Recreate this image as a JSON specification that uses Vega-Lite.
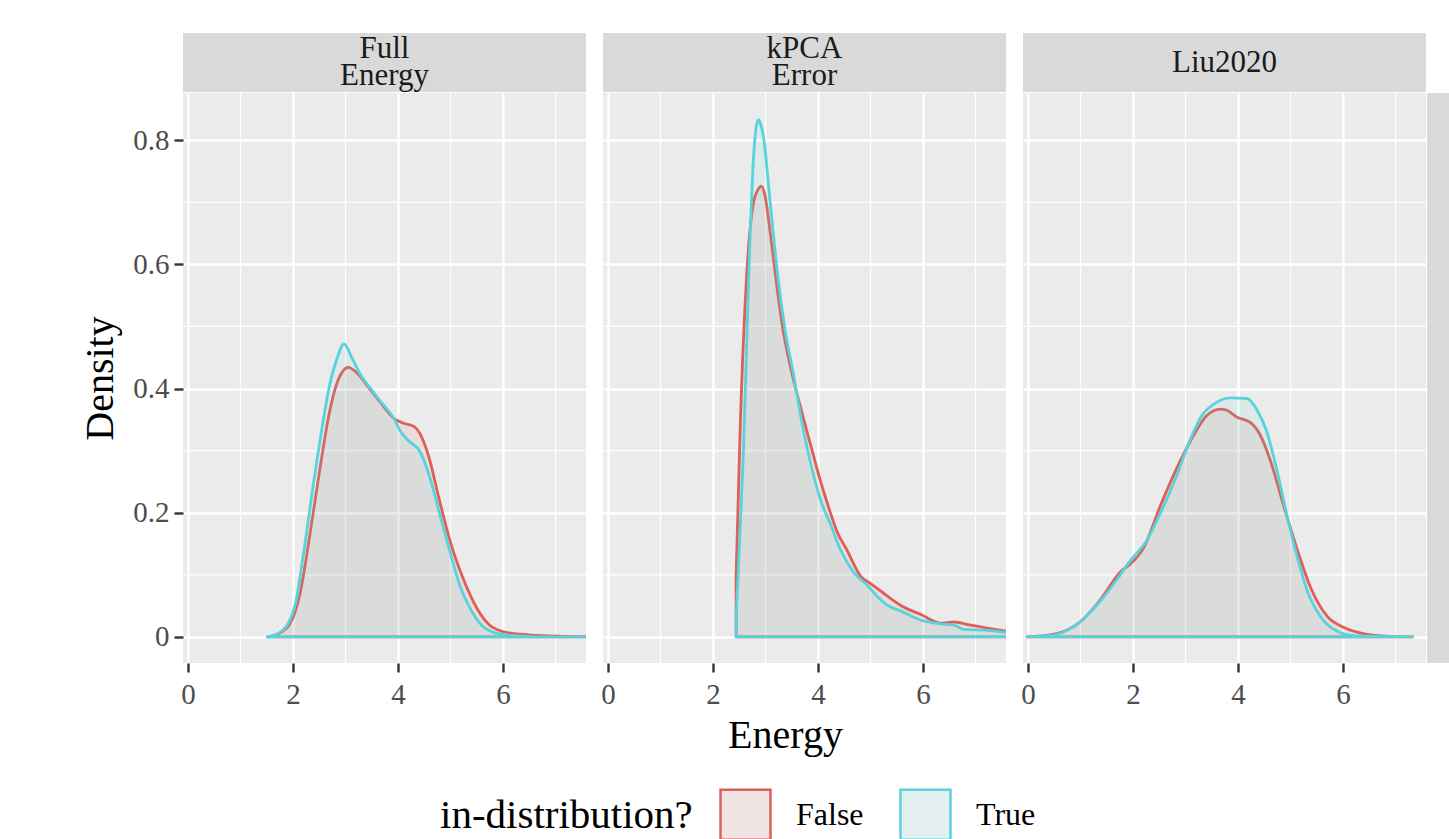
{
  "$schema": "https://vega.github.io/schema/vega-lite/v6.json",
  "background": "white",
  "padding": {"left": 80, "top": 33, "right": 0, "bottom": 0},
  "spacing": 13,
  "config": {
    "font": "Liberation Serif",
    "view": {"fill": "#ebebeb", "stroke": null},
    "axis": {"grid": true, "gridColor": "white", "gridWidth": 2.4, "domain": false, "tickColor": "#333333", "tickSize": 9, "tickWidth": 2.4, "labelFont": "Liberation Serif", "labelFontSize": 29, "labelColor": "#4d4d4d", "titleFont": "Liberation Serif", "titleFontSize": 40, "titleFontWeight": "normal", "titleColor": "black"},
    "axisX": {"labelPadding": 8, "titlePadding": 6},
    "axisY": {"labelPadding": 5, "titlePadding": 12},
    "legend": {"titleLimit": 500},
    "concat": {"spacing": 13}
  },
  "datasets": {
    "dens": [
      {"p": "Full", "g": "False", "x": 1.51, "y": 0.0},
      {"p": "Full", "g": "False", "x": 1.70, "y": 0.004},
      {"p": "Full", "g": "False", "x": 1.94, "y": 0.021},
      {"p": "Full", "g": "False", "x": 2.13, "y": 0.068},
      {"p": "Full", "g": "False", "x": 2.32, "y": 0.164},
      {"p": "Full", "g": "False", "x": 2.52, "y": 0.275},
      {"p": "Full", "g": "False", "x": 2.70, "y": 0.364},
      {"p": "Full", "g": "False", "x": 2.83, "y": 0.407},
      {"p": "Full", "g": "False", "x": 2.95, "y": 0.428},
      {"p": "Full", "g": "False", "x": 3.05, "y": 0.434},
      {"p": "Full", "g": "False", "x": 3.22, "y": 0.425},
      {"p": "Full", "g": "False", "x": 3.41, "y": 0.405},
      {"p": "Full", "g": "False", "x": 3.66, "y": 0.378},
      {"p": "Full", "g": "False", "x": 3.92, "y": 0.352},
      {"p": "Full", "g": "False", "x": 4.11, "y": 0.344},
      {"p": "Full", "g": "False", "x": 4.30, "y": 0.339},
      {"p": "Full", "g": "False", "x": 4.45, "y": 0.322},
      {"p": "Full", "g": "False", "x": 4.59, "y": 0.289},
      {"p": "Full", "g": "False", "x": 4.78, "y": 0.223},
      {"p": "Full", "g": "False", "x": 5.0, "y": 0.152},
      {"p": "Full", "g": "False", "x": 5.25, "y": 0.092},
      {"p": "Full", "g": "False", "x": 5.51, "y": 0.045},
      {"p": "Full", "g": "False", "x": 5.76, "y": 0.018},
      {"p": "Full", "g": "False", "x": 6.08, "y": 0.007},
      {"p": "Full", "g": "False", "x": 6.53, "y": 0.003},
      {"p": "Full", "g": "False", "x": 7.17, "y": 0.001},
      {"p": "Full", "g": "False", "x": 8.0, "y": 0.0},
      {"p": "Full", "g": "True", "x": 1.51, "y": 0.0},
      {"p": "Full", "g": "True", "x": 1.70, "y": 0.005},
      {"p": "Full", "g": "True", "x": 1.88, "y": 0.018},
      {"p": "Full", "g": "True", "x": 2.04, "y": 0.051},
      {"p": "Full", "g": "True", "x": 2.20, "y": 0.134},
      {"p": "Full", "g": "True", "x": 2.39, "y": 0.247},
      {"p": "Full", "g": "True", "x": 2.55, "y": 0.335},
      {"p": "Full", "g": "True", "x": 2.70, "y": 0.407},
      {"p": "Full", "g": "True", "x": 2.83, "y": 0.446},
      {"p": "Full", "g": "True", "x": 2.97, "y": 0.472},
      {"p": "Full", "g": "True", "x": 3.12, "y": 0.450},
      {"p": "Full", "g": "True", "x": 3.28, "y": 0.423},
      {"p": "Full", "g": "True", "x": 3.45, "y": 0.403},
      {"p": "Full", "g": "True", "x": 3.66, "y": 0.380},
      {"p": "Full", "g": "True", "x": 3.92, "y": 0.352},
      {"p": "Full", "g": "True", "x": 4.04, "y": 0.332},
      {"p": "Full", "g": "True", "x": 4.20, "y": 0.316},
      {"p": "Full", "g": "True", "x": 4.43, "y": 0.297},
      {"p": "Full", "g": "True", "x": 4.62, "y": 0.253},
      {"p": "Full", "g": "True", "x": 4.81, "y": 0.193},
      {"p": "Full", "g": "True", "x": 5.0, "y": 0.134},
      {"p": "Full", "g": "True", "x": 5.19, "y": 0.080},
      {"p": "Full", "g": "True", "x": 5.38, "y": 0.045},
      {"p": "Full", "g": "True", "x": 5.57, "y": 0.021},
      {"p": "Full", "g": "True", "x": 5.83, "y": 0.007},
      {"p": "Full", "g": "True", "x": 6.21, "y": 0.002},
      {"p": "Full", "g": "True", "x": 6.85, "y": 0.0},
      {"p": "Full", "g": "True", "x": 8.0, "y": 0.0},
      {"p": "kPCA", "g": "False", "x": 2.44, "y": 0.098},
      {"p": "kPCA", "g": "False", "x": 2.52, "y": 0.342},
      {"p": "kPCA", "g": "False", "x": 2.64, "y": 0.580},
      {"p": "kPCA", "g": "False", "x": 2.77, "y": 0.699},
      {"p": "kPCA", "g": "False", "x": 2.87, "y": 0.722},
      {"p": "kPCA", "g": "False", "x": 2.92, "y": 0.726},
      {"p": "kPCA", "g": "False", "x": 2.99, "y": 0.711},
      {"p": "kPCA", "g": "False", "x": 3.09, "y": 0.651},
      {"p": "kPCA", "g": "False", "x": 3.22, "y": 0.562},
      {"p": "kPCA", "g": "False", "x": 3.34, "y": 0.491},
      {"p": "kPCA", "g": "False", "x": 3.50, "y": 0.426},
      {"p": "kPCA", "g": "False", "x": 3.66, "y": 0.372},
      {"p": "kPCA", "g": "False", "x": 3.85, "y": 0.312},
      {"p": "kPCA", "g": "False", "x": 4.04, "y": 0.253},
      {"p": "kPCA", "g": "False", "x": 4.24, "y": 0.199},
      {"p": "kPCA", "g": "False", "x": 4.36, "y": 0.170},
      {"p": "kPCA", "g": "False", "x": 4.55, "y": 0.140},
      {"p": "kPCA", "g": "False", "x": 4.81, "y": 0.098},
      {"p": "kPCA", "g": "False", "x": 5.0, "y": 0.086},
      {"p": "kPCA", "g": "False", "x": 5.19, "y": 0.074},
      {"p": "kPCA", "g": "False", "x": 5.38, "y": 0.062},
      {"p": "kPCA", "g": "False", "x": 5.57, "y": 0.051},
      {"p": "kPCA", "g": "False", "x": 5.96, "y": 0.036},
      {"p": "kPCA", "g": "False", "x": 6.34, "y": 0.022},
      {"p": "kPCA", "g": "False", "x": 6.59, "y": 0.024},
      {"p": "kPCA", "g": "False", "x": 6.85, "y": 0.020},
      {"p": "kPCA", "g": "False", "x": 7.17, "y": 0.015},
      {"p": "kPCA", "g": "False", "x": 7.60, "y": 0.009},
      {"p": "kPCA", "g": "False", "x": 9.0, "y": 0.003},
      {"p": "kPCA", "g": "False", "x": 10.5, "y": 0.0},
      {"p": "kPCA", "g": "True", "x": 2.44, "y": 0.03},
      {"p": "kPCA", "g": "True", "x": 2.51, "y": 0.16},
      {"p": "kPCA", "g": "True", "x": 2.58, "y": 0.300},
      {"p": "kPCA", "g": "True", "x": 2.68, "y": 0.580},
      {"p": "kPCA", "g": "True", "x": 2.77, "y": 0.770},
      {"p": "kPCA", "g": "True", "x": 2.83, "y": 0.825},
      {"p": "kPCA", "g": "True", "x": 2.87, "y": 0.833},
      {"p": "kPCA", "g": "True", "x": 2.92, "y": 0.822},
      {"p": "kPCA", "g": "True", "x": 2.96, "y": 0.806},
      {"p": "kPCA", "g": "True", "x": 3.09, "y": 0.699},
      {"p": "kPCA", "g": "True", "x": 3.22, "y": 0.592},
      {"p": "kPCA", "g": "True", "x": 3.38, "y": 0.491},
      {"p": "kPCA", "g": "True", "x": 3.54, "y": 0.420},
      {"p": "kPCA", "g": "True", "x": 3.66, "y": 0.360},
      {"p": "kPCA", "g": "True", "x": 3.85, "y": 0.283},
      {"p": "kPCA", "g": "True", "x": 4.04, "y": 0.223},
      {"p": "kPCA", "g": "True", "x": 4.24, "y": 0.181},
      {"p": "kPCA", "g": "True", "x": 4.43, "y": 0.140},
      {"p": "kPCA", "g": "True", "x": 4.68, "y": 0.104},
      {"p": "kPCA", "g": "True", "x": 4.94, "y": 0.083},
      {"p": "kPCA", "g": "True", "x": 5.13, "y": 0.065},
      {"p": "kPCA", "g": "True", "x": 5.32, "y": 0.051},
      {"p": "kPCA", "g": "True", "x": 5.57, "y": 0.042},
      {"p": "kPCA", "g": "True", "x": 5.96, "y": 0.027},
      {"p": "kPCA", "g": "True", "x": 6.34, "y": 0.021},
      {"p": "kPCA", "g": "True", "x": 6.59, "y": 0.019},
      {"p": "kPCA", "g": "True", "x": 6.78, "y": 0.012},
      {"p": "kPCA", "g": "True", "x": 7.17, "y": 0.011},
      {"p": "kPCA", "g": "True", "x": 7.60, "y": 0.007},
      {"p": "kPCA", "g": "True", "x": 9.0, "y": 0.002},
      {"p": "kPCA", "g": "True", "x": 10.5, "y": 0.0},
      {"p": "Liu", "g": "False", "x": -0.02, "y": 0.0},
      {"p": "Liu", "g": "False", "x": 0.48, "y": 0.004},
      {"p": "Liu", "g": "False", "x": 0.99, "y": 0.024},
      {"p": "Liu", "g": "False", "x": 1.37, "y": 0.059},
      {"p": "Liu", "g": "False", "x": 1.75, "y": 0.104},
      {"p": "Liu", "g": "False", "x": 2.01, "y": 0.122},
      {"p": "Liu", "g": "False", "x": 2.20, "y": 0.143},
      {"p": "Liu", "g": "False", "x": 2.52, "y": 0.211},
      {"p": "Liu", "g": "False", "x": 2.83, "y": 0.271},
      {"p": "Liu", "g": "False", "x": 3.15, "y": 0.324},
      {"p": "Liu", "g": "False", "x": 3.41, "y": 0.357},
      {"p": "Liu", "g": "False", "x": 3.66, "y": 0.367},
      {"p": "Liu", "g": "False", "x": 3.79, "y": 0.365},
      {"p": "Liu", "g": "False", "x": 3.98, "y": 0.354},
      {"p": "Liu", "g": "False", "x": 4.24, "y": 0.345},
      {"p": "Liu", "g": "False", "x": 4.43, "y": 0.324},
      {"p": "Liu", "g": "False", "x": 4.62, "y": 0.283},
      {"p": "Liu", "g": "False", "x": 4.87, "y": 0.211},
      {"p": "Liu", "g": "False", "x": 5.13, "y": 0.140},
      {"p": "Liu", "g": "False", "x": 5.38, "y": 0.080},
      {"p": "Liu", "g": "False", "x": 5.70, "y": 0.033},
      {"p": "Liu", "g": "False", "x": 6.02, "y": 0.015},
      {"p": "Liu", "g": "False", "x": 6.46, "y": 0.004},
      {"p": "Liu", "g": "False", "x": 6.85, "y": 0.001},
      {"p": "Liu", "g": "False", "x": 7.32, "y": 0.0},
      {"p": "Liu", "g": "True", "x": -0.02, "y": 0.0},
      {"p": "Liu", "g": "True", "x": 0.48, "y": 0.003},
      {"p": "Liu", "g": "True", "x": 0.99, "y": 0.024},
      {"p": "Liu", "g": "True", "x": 1.37, "y": 0.057},
      {"p": "Liu", "g": "True", "x": 1.69, "y": 0.092},
      {"p": "Liu", "g": "True", "x": 1.94, "y": 0.122},
      {"p": "Liu", "g": "True", "x": 2.26, "y": 0.155},
      {"p": "Liu", "g": "True", "x": 2.52, "y": 0.199},
      {"p": "Liu", "g": "True", "x": 2.83, "y": 0.259},
      {"p": "Liu", "g": "True", "x": 3.09, "y": 0.318},
      {"p": "Liu", "g": "True", "x": 3.34, "y": 0.360},
      {"p": "Liu", "g": "True", "x": 3.54, "y": 0.375},
      {"p": "Liu", "g": "True", "x": 3.85, "y": 0.385},
      {"p": "Liu", "g": "True", "x": 4.17, "y": 0.384},
      {"p": "Liu", "g": "True", "x": 4.36, "y": 0.366},
      {"p": "Liu", "g": "True", "x": 4.55, "y": 0.330},
      {"p": "Liu", "g": "True", "x": 4.75, "y": 0.265},
      {"p": "Liu", "g": "True", "x": 4.94, "y": 0.193},
      {"p": "Liu", "g": "True", "x": 5.13, "y": 0.128},
      {"p": "Liu", "g": "True", "x": 5.32, "y": 0.074},
      {"p": "Liu", "g": "True", "x": 5.57, "y": 0.033},
      {"p": "Liu", "g": "True", "x": 5.89, "y": 0.009},
      {"p": "Liu", "g": "True", "x": 6.21, "y": 0.002},
      {"p": "Liu", "g": "True", "x": 7.32, "y": 0.0}
    ]
  },
  "hconcat": [
    {
      "spacing": 0,
      "vconcat": [
        {"width": 403, "height": 59, "view": {"fill": "#d9d9d9", "stroke": null},
         "data": {"values": [{"a": "Full", "b": "Energy"}]},
         "layer": [
           {"mark": {"type": "text", "fontSize": 31, "dy": -13.5, "color": "#1a1a1a", "baseline": "middle", "font": "Liberation Serif"}, "encoding": {"text": {"field": "a"}}},
           {"mark": {"type": "text", "fontSize": 31, "dy": 13.5, "color": "#1a1a1a", "baseline": "middle", "font": "Liberation Serif"}, "encoding": {"text": {"field": "b"}}}
         ]},
        {"width": 403, "height": 570, "view": {"fill": "#ebebeb", "stroke": null},
         "layer": [
           {"data": {"values": [{"v": 1}, {"v": 3}, {"v": 5}, {"v": 7}]}, "mark": {"type": "rule", "color": "white", "strokeWidth": 1.2},
            "encoding": {"x": {"field": "v", "type": "quantitative", "scale": {"domain": [-0.095, 7.58], "nice": false, "zero": false}, "axis": {"values": [0, 2, 4, 6], "title": null}}}},
           {"data": {"values": [{"v": 0.1}, {"v": 0.3}, {"v": 0.5}, {"v": 0.7}]}, "mark": {"type": "rule", "color": "white", "strokeWidth": 1.2},
            "encoding": {"y": {"field": "v", "type": "quantitative", "scale": {"domain": [-0.042, 0.876], "nice": false, "zero": false}, "axis": {"values": [0, 0.2, 0.4, 0.6, 0.8], "title": "Density", "labelExpr": "datum.value === 0 ? '0' : format(datum.value, '.1f')"}}}},
           {"data": {"name": "dens"}, "transform": [{"filter": "datum.p === 'Full' && datum.g === 'False'"}],
            "mark": {"type": "area", "clip": true, "interpolate": "monotone", "fill": "#DC5F58", "fillOpacity": 0.1, "strokeWidth": 2.8, "strokeJoin": "round"},
            "encoding": {
              "x": {"field": "x", "type": "quantitative", "scale": {"domain": [-0.095, 7.58], "nice": false, "zero": false}, "axis": {"values": [0, 2, 4, 6], "title": null}},
              "y": {"field": "y", "type": "quantitative", "scale": {"domain": [-0.042, 0.876], "nice": false, "zero": false}, "axis": {"values": [0, 0.2, 0.4, 0.6, 0.8], "title": "Density", "labelExpr": "datum.value === 0 ? '0' : format(datum.value, '.1f')"}},
              "y2": {"datum": 0},
              "stroke": {"field": "g", "type": "nominal", "scale": {"domain": ["False", "True"], "range": ["#DC5F58", "#58D3DB"]},
                "legend": {"title": "in-distribution?", "orient": "none", "legendX": 257, "legendY": 755, "direction": "horizontal", "titleOrient": "left", "titleAnchor": "middle", "titleBaseline": "middle", "titlePadding": 26, "titleFontSize": 41, "titleFontWeight": "normal", "titleColor": "black", "titleFont": "Liberation Serif", "titleLimit": 500, "labelFont": "Liberation Serif", "labelFontSize": 32, "labelColor": "black", "labelOffset": 24, "columnPadding": 31, "symbolType": "square", "symbolSize": 2500, "symbolStrokeWidth": 2.5, "symbolOpacity": 1}}
            }},
           {"data": {"name": "dens"}, "transform": [{"filter": "datum.p === 'Full' && datum.g === 'True'"}],
            "mark": {"type": "area", "clip": true, "interpolate": "monotone", "fill": "#58D3DB", "fillOpacity": 0.1, "strokeWidth": 2.8, "strokeJoin": "round"},
            "encoding": {
              "x": {"field": "x", "type": "quantitative", "scale": {"domain": [-0.095, 7.58], "nice": false, "zero": false}, "axis": {"values": [0, 2, 4, 6], "title": null}},
              "y": {"field": "y", "type": "quantitative", "scale": {"domain": [-0.042, 0.876], "nice": false, "zero": false}, "axis": {"values": [0, 0.2, 0.4, 0.6, 0.8], "title": "Density", "labelExpr": "datum.value === 0 ? '0' : format(datum.value, '.1f')"}},
              "y2": {"datum": 0},
              "stroke": {"field": "g", "type": "nominal", "scale": {"domain": ["False", "True"], "range": ["#DC5F58", "#58D3DB"]},
                "legend": {"title": "in-distribution?", "orient": "none", "legendX": 257, "legendY": 755, "direction": "horizontal", "titleOrient": "left", "titleAnchor": "middle", "titleBaseline": "middle", "titlePadding": 26, "titleFontSize": 41, "titleFontWeight": "normal", "titleColor": "black", "titleFont": "Liberation Serif", "titleLimit": 500, "labelFont": "Liberation Serif", "labelFontSize": 32, "labelColor": "black", "labelOffset": 24, "columnPadding": 31, "symbolType": "square", "symbolSize": 2500, "symbolStrokeWidth": 2.5, "symbolOpacity": 1}}
            }},
           {"data": {"values": [{"g": "False"}, {"g": "True"}]},
            "mark": {"type": "square", "size": 0, "strokeWidth": 0},
            "encoding": {
              "fill": {"field": "g", "type": "nominal", "scale": {"domain": ["False", "True"], "range": ["#f0e3e3", "#e3eff0"]},
                "legend": {"title": "in-distribution?", "orient": "none", "legendX": 257, "legendY": 755, "direction": "horizontal", "titleOrient": "left", "titleAnchor": "middle", "titleBaseline": "middle", "titlePadding": 26, "titleFontSize": 41, "titleFontWeight": "normal", "titleColor": "black", "titleFont": "Liberation Serif", "titleLimit": 500, "labelFont": "Liberation Serif", "labelFontSize": 32, "labelColor": "black", "labelOffset": 24, "columnPadding": 31, "symbolType": "square", "symbolSize": 2500, "symbolStrokeWidth": 2.5, "symbolOpacity": 1}},
              "stroke": {"field": "g", "type": "nominal", "scale": {"domain": ["False", "True"], "range": ["#DC5F58", "#58D3DB"]},
                "legend": {"title": "in-distribution?", "orient": "none", "legendX": 257, "legendY": 755, "direction": "horizontal", "titleOrient": "left", "titleAnchor": "middle", "titleBaseline": "middle", "titlePadding": 26, "titleFontSize": 41, "titleFontWeight": "normal", "titleColor": "black", "titleFont": "Liberation Serif", "titleLimit": 500, "labelFont": "Liberation Serif", "labelFontSize": 32, "labelColor": "black", "labelOffset": 24, "columnPadding": 31, "symbolType": "square", "symbolSize": 2500, "symbolStrokeWidth": 2.5, "symbolOpacity": 1}}
            }}
         ]}
      ]
    },
    {
      "spacing": 0,
      "vconcat": [
        {"width": 403, "height": 59, "view": {"fill": "#d9d9d9", "stroke": null},
         "data": {"values": [{"a": "kPCA", "b": "Error"}]},
         "layer": [
           {"mark": {"type": "text", "fontSize": 31, "dy": -13.5, "color": "#1a1a1a", "baseline": "middle", "font": "Liberation Serif"}, "encoding": {"text": {"field": "a"}}},
           {"mark": {"type": "text", "fontSize": 31, "dy": 13.5, "color": "#1a1a1a", "baseline": "middle", "font": "Liberation Serif"}, "encoding": {"text": {"field": "b"}}}
         ]},
        {"width": 403, "height": 570,
         "layer": [
           {"data": {"values": [{"v": 1}, {"v": 3}, {"v": 5}, {"v": 7}]}, "mark": {"type": "rule", "color": "white", "strokeWidth": 1.2},
            "encoding": {"x": {"field": "v", "type": "quantitative", "scale": {"domain": [-0.095, 7.58], "nice": false, "zero": false}, "axis": {"values": [0, 2, 4, 6], "title": "Energy", "titleX": 182}}}},
           {"data": {"values": [{"v": 0.1}, {"v": 0.3}, {"v": 0.5}, {"v": 0.7}]}, "mark": {"type": "rule", "color": "white", "strokeWidth": 1.2},
            "encoding": {"y": {"field": "v", "type": "quantitative", "scale": {"domain": [-0.042, 0.876], "nice": false, "zero": false}, "axis": {"values": [0, 0.2, 0.4, 0.6, 0.8], "title": null, "labels": false, "ticks": false}}}},
           {"data": {"name": "dens"}, "transform": [{"filter": "datum.p === 'kPCA' && datum.g === 'False'"}],
            "mark": {"type": "area", "clip": true, "interpolate": "monotone", "fill": "#DC5F58", "fillOpacity": 0.1, "strokeWidth": 2.8, "strokeJoin": "round"},
            "encoding": {
              "x": {"field": "x", "type": "quantitative", "scale": {"domain": [-0.095, 7.58], "nice": false, "zero": false}, "axis": {"values": [0, 2, 4, 6], "title": "Energy", "titleX": 182}},
              "y": {"field": "y", "type": "quantitative", "scale": {"domain": [-0.042, 0.876], "nice": false, "zero": false}, "axis": {"values": [0, 0.2, 0.4, 0.6, 0.8], "title": null, "labels": false, "ticks": false}},
              "y2": {"datum": 0},
              "stroke": {"field": "g", "type": "nominal", "scale": {"domain": ["False", "True"], "range": ["#DC5F58", "#58D3DB"]},
                "legend": {"title": "in-distribution?", "orient": "none", "legendX": 257, "legendY": 755, "direction": "horizontal", "titleOrient": "left", "titleAnchor": "middle", "titleBaseline": "middle", "titlePadding": 26, "titleFontSize": 41, "titleFontWeight": "normal", "titleColor": "black", "titleFont": "Liberation Serif", "titleLimit": 500, "labelFont": "Liberation Serif", "labelFontSize": 32, "labelColor": "black", "labelOffset": 24, "columnPadding": 31, "symbolType": "square", "symbolSize": 2500, "symbolStrokeWidth": 2.5, "symbolOpacity": 1}}
            }},
           {"data": {"name": "dens"}, "transform": [{"filter": "datum.p === 'kPCA' && datum.g === 'True'"}],
            "mark": {"type": "area", "clip": true, "interpolate": "monotone", "fill": "#58D3DB", "fillOpacity": 0.1, "strokeWidth": 2.8, "strokeJoin": "round"},
            "encoding": {
              "x": {"field": "x", "type": "quantitative", "scale": {"domain": [-0.095, 7.58], "nice": false, "zero": false}, "axis": {"values": [0, 2, 4, 6], "title": "Energy", "titleX": 182}},
              "y": {"field": "y", "type": "quantitative", "scale": {"domain": [-0.042, 0.876], "nice": false, "zero": false}, "axis": {"values": [0, 0.2, 0.4, 0.6, 0.8], "title": null, "labels": false, "ticks": false}},
              "y2": {"datum": 0},
              "stroke": {"field": "g", "type": "nominal", "scale": {"domain": ["False", "True"], "range": ["#DC5F58", "#58D3DB"]},
                "legend": {"title": "in-distribution?", "orient": "none", "legendX": 257, "legendY": 755, "direction": "horizontal", "titleOrient": "left", "titleAnchor": "middle", "titleBaseline": "middle", "titlePadding": 26, "titleFontSize": 41, "titleFontWeight": "normal", "titleColor": "black", "titleFont": "Liberation Serif", "titleLimit": 500, "labelFont": "Liberation Serif", "labelFontSize": 32, "labelColor": "black", "labelOffset": 24, "columnPadding": 31, "symbolType": "square", "symbolSize": 2500, "symbolStrokeWidth": 2.5, "symbolOpacity": 1}}
            }}
         ]}
      ]
    },
    {
      "spacing": 0,
      "vconcat": [
        {"width": 403, "height": 59, "view": {"fill": "#d9d9d9", "stroke": null},
         "data": {"values": [{"label": "Liu2020"}]},
         "mark": {"type": "text", "fontSize": 31, "color": "#1a1a1a", "baseline": "middle", "font": "Liberation Serif"},
         "encoding": {"text": {"field": "label"}}},
        {"spacing": 0,
         "hconcat": [
          {"width": 403, "height": 570,
           "layer": [
             {"data": {"values": [{"v": 1}, {"v": 3}, {"v": 5}, {"v": 7}]}, "mark": {"type": "rule", "color": "white", "strokeWidth": 1.2},
              "encoding": {"x": {"field": "v", "type": "quantitative", "scale": {"domain": [-0.095, 7.58], "nice": false, "zero": false}, "axis": {"values": [0, 2, 4, 6], "title": null}}}},
             {"data": {"values": [{"v": 0.1}, {"v": 0.3}, {"v": 0.5}, {"v": 0.7}]}, "mark": {"type": "rule", "color": "white", "strokeWidth": 1.2},
              "encoding": {"y": {"field": "v", "type": "quantitative", "scale": {"domain": [-0.042, 0.876], "nice": false, "zero": false}, "axis": {"values": [0, 0.2, 0.4, 0.6, 0.8], "title": null, "labels": false, "ticks": false}}}},
             {"data": {"name": "dens"}, "transform": [{"filter": "datum.p === 'Liu' && datum.g === 'False'"}],
              "mark": {"type": "area", "clip": true, "interpolate": "monotone", "fill": "#DC5F58", "fillOpacity": 0.1, "strokeWidth": 2.8, "strokeJoin": "round"},
              "encoding": {
                "x": {"field": "x", "type": "quantitative", "scale": {"domain": [-0.095, 7.58], "nice": false, "zero": false}, "axis": {"values": [0, 2, 4, 6], "title": null}},
                "y": {"field": "y", "type": "quantitative", "scale": {"domain": [-0.042, 0.876], "nice": false, "zero": false}, "axis": {"values": [0, 0.2, 0.4, 0.6, 0.8], "title": null, "labels": false, "ticks": false}},
                "y2": {"datum": 0},
                "stroke": {"field": "g", "type": "nominal", "scale": {"domain": ["False", "True"], "range": ["#DC5F58", "#58D3DB"]},
                  "legend": {"title": "in-distribution?", "orient": "none", "legendX": 257, "legendY": 755, "direction": "horizontal", "titleOrient": "left", "titleAnchor": "middle", "titleBaseline": "middle", "titlePadding": 26, "titleFontSize": 41, "titleFontWeight": "normal", "titleColor": "black", "titleFont": "Liberation Serif", "titleLimit": 500, "labelFont": "Liberation Serif", "labelFontSize": 32, "labelColor": "black", "labelOffset": 24, "columnPadding": 31, "symbolType": "square", "symbolSize": 2500, "symbolStrokeWidth": 2.5, "symbolOpacity": 1}}
              }},
             {"data": {"name": "dens"}, "transform": [{"filter": "datum.p === 'Liu' && datum.g === 'True'"}],
              "mark": {"type": "area", "clip": true, "interpolate": "monotone", "fill": "#58D3DB", "fillOpacity": 0.1, "strokeWidth": 2.8, "strokeJoin": "round"},
              "encoding": {
                "x": {"field": "x", "type": "quantitative", "scale": {"domain": [-0.095, 7.58], "nice": false, "zero": false}, "axis": {"values": [0, 2, 4, 6], "title": null}},
                "y": {"field": "y", "type": "quantitative", "scale": {"domain": [-0.042, 0.876], "nice": false, "zero": false}, "axis": {"values": [0, 0.2, 0.4, 0.6, 0.8], "title": null, "labels": false, "ticks": false}},
                "y2": {"datum": 0},
                "stroke": {"field": "g", "type": "nominal", "scale": {"domain": ["False", "True"], "range": ["#DC5F58", "#58D3DB"]},
                  "legend": {"title": "in-distribution?", "orient": "none", "legendX": 257, "legendY": 755, "direction": "horizontal", "titleOrient": "left", "titleAnchor": "middle", "titleBaseline": "middle", "titlePadding": 26, "titleFontSize": 41, "titleFontWeight": "normal", "titleColor": "black", "titleFont": "Liberation Serif", "titleLimit": 500, "labelFont": "Liberation Serif", "labelFontSize": 32, "labelColor": "black", "labelOffset": 24, "columnPadding": 31, "symbolType": "square", "symbolSize": 2500, "symbolStrokeWidth": 2.5, "symbolOpacity": 1}}
              }}
           ]},
          {"width": 24, "height": 570, "view": {"fill": "#d9d9d9", "stroke": null},
           "data": {"values": [{"t": ""}]},
           "mark": {"type": "text"},
           "encoding": {"text": {"field": "t"}}}
         ]}
      ]
    }
  ]
}
